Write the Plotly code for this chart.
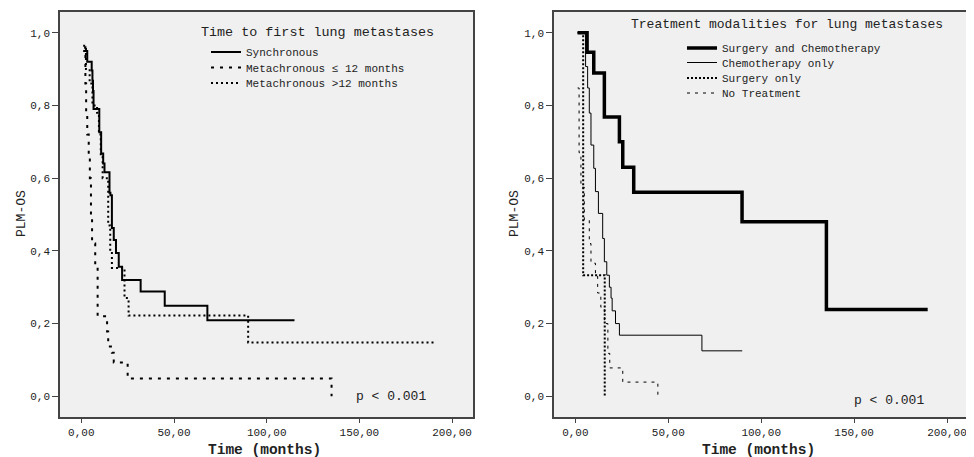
import plotly.graph_objects as go

# ---------------- data ----------------
# Left panel: time to first lung metastases
sync_t = [1, 3.2, 5.6, 6.0, 6.3, 6.6, 9.7, 10.7, 11.8, 12.5, 15.2, 15.7, 16.5, 17.5, 18.7, 20.2, 22, 32, 45, 68, 115]
sync_s = [0.95, 0.92, 0.896, 0.868, 0.84, 0.79, 0.726, 0.668, 0.64, 0.616, 0.56, 0.553, 0.463, 0.43, 0.394, 0.356, 0.32, 0.288, 0.249, 0.209, 0.209]

le12_t = [1.5, 2.2, 2.6, 3.2, 4.0, 4.6, 5.2, 5.8, 7.5, 8.8, 13.9, 14.5, 16.5, 17.5, 25, 135]
le12_s = [0.96, 0.86, 0.78, 0.72, 0.66, 0.60, 0.50, 0.42, 0.355, 0.22, 0.178, 0.137, 0.12, 0.093, 0.049, 0.0]

gt12_t = [1.0, 2.5, 4.5, 6.0, 8.5, 9.5, 10.5, 11.5, 14.5, 15.6, 16.5, 23.3, 25.5, 90, 190]
gt12_s = [0.964, 0.90, 0.86, 0.80, 0.78, 0.72, 0.66, 0.60, 0.47, 0.40, 0.353, 0.27, 0.222, 0.148, 0.148]

# Right panel: treatment modalities
sc_t = [1.2, 6.3, 9.9, 15.6, 23.7, 25.5, 31.4, 89.7, 135.1, 189.6]
sc_s = [1.0, 0.946, 0.889, 0.768, 0.70, 0.63, 0.561, 0.48, 0.239, 0.239]

chemo_t = [1.2, 5.5, 6.6, 7.5, 8.4, 9.9, 10.8, 12.4, 14.7, 15.6, 16.9, 18.3, 19.2, 19.8, 21.6, 23.7, 68.1, 89.8]
chemo_s = [1.0, 0.907, 0.848, 0.779, 0.691, 0.627, 0.563, 0.503, 0.434, 0.37, 0.333, 0.30, 0.27, 0.235, 0.20, 0.168, 0.125, 0.125]

surg_t = [1.2, 4.2, 15.8]
surg_s = [1.0, 0.333, 0.0]

none_t = [1.2, 2.0, 3.0, 4.8, 7.5, 8.4, 10.8, 12.0, 13.7, 15.6, 17.5, 18.5, 25.5, 44.4]
none_s = [0.848, 0.67, 0.575, 0.485, 0.42, 0.366, 0.333, 0.284, 0.245, 0.20, 0.118, 0.078, 0.039, 0.0]

x_tickvals = [0, 50, 100, 150, 200]
x_ticktext = ["0,00", "50,00", "100,00", "150,00", "200,00"]
y_tickvals = [0, 0.2, 0.4, 0.6, 0.8, 1.0]
y_ticktext = ["0,0", "0,2", "0,4", "0,6", "0,8", "1,0"]

left_title = "Time to first lung metastases"
right_title = "Treatment modalities for lung metastases"
p_text = "p < 0.001"
x_title = "Time (months)"
y_title = "PLM-OS"

FONT = "Liberation Mono, Courier New, monospace"

# page body has an 8px margin -> figure drawn from (8, 8)
OFF = 8
W, H = 966, 449


def PX(p):
    return (p - OFF) / W


def PY(p):
    return 1 - (p - OFF) / H


fig = go.Figure()
legend_defs = {}


def km(t, s, name, width, dash, xa, ya, legend, lx, ly):
    fig.add_trace(go.Scatter(
        x=t, y=s, mode="lines", name=name, line_shape="hv",
        line=dict(color="black", width=width, dash=dash),
        xaxis=xa, yaxis=ya, legend=legend, hoverinfo="skip"))
    legend_defs[legend] = dict(
        x=PX(lx), y=PY(ly), xanchor="left", yanchor="middle",
        bgcolor="rgba(0,0,0,0)", borderwidth=0,
        font=dict(family=FONT, size=11, color="#222"), itemwidth=30)


km(sync_t, sync_s, "Synchronous", 2, "solid", "x", "y", "legend", 206, 52)
km(le12_t, le12_s, "Metachronous \u2264 12 months", 2, "3px,6px", "x", "y", "legend2", 206, 67.5)
km(gt12_t, gt12_s, "Metachronous >12 months", 2, "2px,3px", "x", "y", "legend3", 206, 83)

km(sc_t, sc_s, "Surgery and Chemotherapy", 3.5, "solid", "x2", "y2", "legend4", 682, 48)
km(chemo_t, chemo_s, "Chemotherapy only", 1, "solid", "x2", "y2", "legend5", 682, 62.5)
km(surg_t, surg_s, "Surgery only", 2, "2px,2px", "x2", "y2", "legend6", 682, 78)
km(none_t, none_s, "No Treatment", 1, "3px,5px", "x2", "y2", "legend7", 682, 93)

axis_common = dict(
    showline=True, linecolor="#444", linewidth=1.5, mirror=True,
    showgrid=False, zeroline=False, ticks="outside", tickcolor="#444",
    tickfont=dict(family=FONT, size=11, color="#222"),
)
xr = [-11.5, 211.3]
yr = [-0.057, 1.057]
ydom = [PY(417), PY(12)]

fig.update_layout(
    width=W, height=H,
    margin=dict(l=0, r=0, t=0, b=0),
    paper_bgcolor="white", plot_bgcolor="#F0F0F0",
    font=dict(family=FONT, color="#222"),
    xaxis=dict(domain=[PX(60), PX(473)], range=xr, tickvals=x_tickvals, ticktext=x_ticktext, anchor="y", ticklen=4, **axis_common),
    yaxis=dict(domain=ydom, range=yr, tickvals=y_tickvals, ticktext=y_ticktext, anchor="x", ticklen=6, **axis_common),
    xaxis2=dict(domain=[PX(554), PX(968)], range=xr, tickvals=x_tickvals, ticktext=x_ticktext, anchor="y2", ticklen=4, **axis_common),
    yaxis2=dict(domain=ydom, range=yr, tickvals=y_tickvals, ticktext=y_ticktext, anchor="x2", ticklen=6, **axis_common),
    showlegend=True,
    **legend_defs,
)

ann = [
    dict(text=left_title, x=PX(436), y=PY(32), xanchor="right", yanchor="middle", font=dict(size=13.4)),
    dict(text=right_title, x=PX(945), y=PY(25), xanchor="right", yanchor="middle", font=dict(size=13)),
    dict(text=p_text, x=PX(428), y=PY(396), xanchor="right", yanchor="middle", font=dict(size=13)),
    dict(text=p_text, x=PX(926), y=PY(400), xanchor="right", yanchor="middle", font=dict(size=13)),
    dict(text="<b>" + x_title + "</b>", x=PX(264), y=PY(450), xanchor="center", yanchor="middle", font=dict(size=14.5)),
    dict(text="<b>" + x_title + "</b>", x=PX(758), y=PY(450), xanchor="center", yanchor="middle", font=dict(size=14.5)),
    dict(text=y_title, x=PX(21), y=PY(214), xanchor="center", yanchor="middle", textangle=-90, font=dict(size=13)),
    dict(text=y_title, x=PX(514), y=PY(214), xanchor="center", yanchor="middle", textangle=-90, font=dict(size=13)),
]
for a in ann:
    a.update(xref="paper", yref="paper", showarrow=False)
    a["font"] = dict(family=FONT, color="#222", **a["font"])
fig.update_layout(annotations=ann)

fig.write_html("out.html")
